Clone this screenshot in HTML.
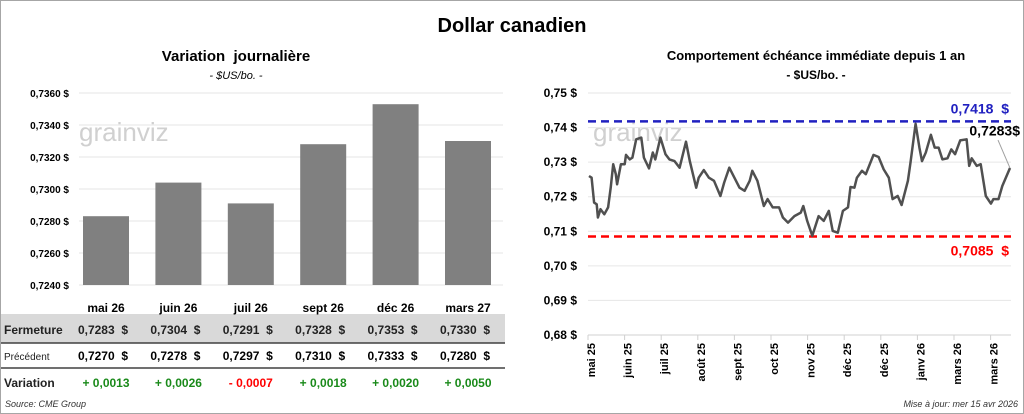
<!DOCTYPE html>
<html><head><meta charset="utf-8"><style>
body{margin:0;background:#fff;}
#root{position:relative;width:1022px;height:412px;border:1px solid #a6a6a6;font-family:"Liberation Sans",sans-serif;overflow:hidden;}
svg text{font-family:"Liberation Sans",sans-serif;white-space:pre;}
</style></head><body>
<div id="root">
<svg id="svg" width="1022" height="412">
<text x="511" y="31" text-anchor="middle" font-size="20" font-weight="bold">Dollar canadien</text>
<text x="235" y="60" text-anchor="middle" font-size="15" font-weight="bold">Variation  journalière</text>
<text x="235" y="78" text-anchor="middle" font-size="11" font-style="italic">- $US/bo. -</text>
<text x="815" y="59" text-anchor="middle" font-size="13" font-weight="bold">Comportement échéance immédiate depuis 1 an</text>
<text x="815" y="78" text-anchor="middle" font-size="12" font-weight="bold">- $US/bo. -</text>
<text x="78" y="140" font-size="26" fill="#d0d0d0">grainviz</text>
<text x="592" y="140" font-size="26" fill="#d0d0d0">grainviz</text>
<g id="left"></g><g id="right"></g><g id="table"></g>
<text x="4" y="406" font-size="9" font-style="italic" fill="#333">Source: CME Group</text>
<text x="1017" y="406" text-anchor="end" font-size="9" font-style="italic" fill="#333">Mise à jour: mer 15 avr 2026</text>
</svg></div>
<script>
const categories=["mai 26","juin 26","juil 26","sept 26","déc 26","mars 27"];
const closes=[0.7283,0.7304,0.7291,0.7328,0.7353,0.7330];
const previous=[0.7270,0.7278,0.7297,0.7310,0.7333,0.7280];
const variations=[0.0013,0.0026,-0.0007,0.0018,0.0020,0.0050];
const leftTicks=[0.7240,0.7260,0.7280,0.7300,0.7320,0.7340,0.7360];
const days=[0,2,4,6,7,9,12,15,17,19,21,22,25,28,29,32,34,37,41,43,47,50,52,56,60,63,67,71,76,79,84,86,90,94,98,103,106,110,114,118,122,126,128,132,137,140,144,149,152,156,161,166,168,171,175,180,184,188,191,195,199,203,205,208,210,214,217,223,227,231,235,238,242,245,250,252,256,259,261,264,268,271,274,277,281,284,287,291,296,298,300,304,307,311,315,317,321,324,330];
const prices=[0.7260,0.7255,0.7183,0.7178,0.7140,0.7164,0.7149,0.7169,0.7226,0.7294,0.7265,0.7236,0.7294,0.7294,0.7321,0.7308,0.7313,0.7366,0.7371,0.7313,0.7282,0.7328,0.7308,0.7371,0.7323,0.7308,0.7303,0.7284,0.7359,0.7303,0.7226,0.7255,0.7277,0.7255,0.7246,0.7202,0.7241,0.7284,0.7255,0.7226,0.7217,0.7246,0.7275,0.7246,0.7173,0.7193,0.7169,0.7169,0.7140,0.7125,0.7144,0.7154,0.7173,0.7130,0.7087,0.7144,0.7130,0.7159,0.7101,0.7096,0.7159,0.7169,0.7228,0.7226,0.7255,0.7275,0.7265,0.7321,0.7315,0.7279,0.7255,0.7193,0.7202,0.7176,0.7246,0.7299,0.7411,0.7342,0.7303,0.7328,0.7379,0.7342,0.7342,0.7308,0.7311,0.7337,0.7323,0.7363,0.7366,0.7289,0.7311,0.7289,0.7294,0.7202,0.7180,0.7193,0.7193,0.7231,0.7283];
const rightTicks=[0.68,0.69,0.70,0.71,0.72,0.73,0.74,0.75];
const monthLabels=["mai 25","juin 25","juil 25","août 25","sept 25","oct 25","nov 25","déc 25","déc 25","janv 26","mars 26","mars 26"];
const highVal=0.7418, lowVal=0.7085, lastVal=0.7283;
const NS="http://www.w3.org/2000/svg";
function mk(tag,attrs,parent,txt){const e=document.createElementNS(NS,tag);for(const k in attrs)e.setAttribute(k,attrs[k]);if(txt!==undefined)e.textContent=txt;parent.appendChild(e);return e;}
const fmt=(v,d)=>v.toFixed(d).replace('.',',');
const L=document.getElementById('left');
const ly=v=>284-(v-0.7240)/0.0120*192;
const lx=i=>105+i*72.4;
leftTicks.forEach(t=>{
 const g=mk('line',{x1:78,x2:502,y1:ly(t),y2:ly(t),stroke:'#e6e6e6'},L);
 
 
 const tx=mk('text',{x:68,y:ly(t)+4,'text-anchor':'end','font-size':10,'font-weight':'bold'},L,fmt(t,4)+' $');
 
 
});
closes.forEach((v,i)=>{
 const r=mk('rect',{x:lx(i)-23,y:ly(v),width:46,height:284-ly(v),fill:'#808080'},L);
 
 
});
const T=document.getElementById('table');
const bg=mk('rect',{x:0,y:313,width:504,height:29,fill:'#d9d9d9'},T);


[342,367].forEach(y=>{const l=mk('line',{x1:0,x2:504,y1:y,y2:y,stroke:'#404040','stroke-width':1.5},T);
 
 });
const r1=mk('text',{x:3,y:333,'font-size':12,'font-weight':'bold',fill:'#222'},T,'Fermeture');


const r2=mk('text',{x:3,y:359,'font-size':10,fill:'#222'},T,'Précédent');


const r3=mk('text',{x:3,y:386,'font-size':12,'font-weight':'bold',fill:'#222'},T,'Variation');


categories.forEach((c,i)=>{
 const h=mk('text',{x:lx(i),y:311,'text-anchor':'middle','font-size':12,'font-weight':'bold'},T,c);
 
 
 const a=mk('text',{x:lx(i)+22,y:333,'text-anchor':'end','font-size':12,'font-weight':'bold',fill:'#222'},T,fmt(closes[i],4)+'  $');
 
 
 const b=mk('text',{x:lx(i)+22,y:359,'text-anchor':'end','font-size':12,'font-weight':'bold'},T,fmt(previous[i],4)+'  $');
 
 
 const d=variations[i];
 const v=mk('text',{x:lx(i),y:386,'text-anchor':'middle','font-size':12,'font-weight':'bold',fill:d>=0?'#1a8a1a':'#ff0000'},T,(d>=0?'+ ':'- ')+fmt(Math.abs(d),4));
 
 
});
const R=document.getElementById('right');
const ry=v=>334-(v-0.68)/0.07*242;
const rx=d=>588+d/330*421;
rightTicks.forEach(t=>{
 const g=mk('line',{x1:587,x2:1010,y1:ry(t),y2:ry(t),stroke:t===0.68?'#d0d0d0':'#e6e6e6'},R);
 
 
 const tx=mk('text',{x:576,y:ry(t)+4,'text-anchor':'end','font-size':12,'font-weight':'bold'},R,fmt(t,2)+' $');
 
 
});
monthLabels.forEach((m,i)=>{
 const x=587+i*36.6;
 const tk=mk('line',{x1:x,x2:x,y1:334,y2:339,stroke:'#d0d0d0'},R);
 
 
 const t=mk('text',{x:0,y:0,'text-anchor':'end','font-size':11,'font-weight':'bold',transform:`translate(${x+7},342) rotate(-90)`},R,m);
 
 
});
const hl=mk('line',{x1:587,x2:1010,y1:ry(highVal),y2:ry(highVal),stroke:'#2020c0','stroke-width':2.5,'stroke-dasharray':'8,5'},R);


const ll=mk('line',{x1:587,x2:1010,y1:ry(lowVal),y2:ry(lowVal),stroke:'#ff0000','stroke-width':2.5,'stroke-dasharray':'8,5'},R);


const ht=mk('text',{x:1008,y:ry(highVal)-8,'text-anchor':'end','font-size':14,'font-weight':'bold',fill:'#2020c0'},R,fmt(highVal,4)+'  $');


const lt=mk('text',{x:1008,y:ry(lowVal)+19,'text-anchor':'end','font-size':14,'font-weight':'bold',fill:'#ff0000'},R,fmt(lowVal,4)+'  $');


const pts=days.map((d,i)=>rx(d).toFixed(1)+','+ry(prices[i]).toFixed(1)).join(' ');
const pl=mk('polyline',{points:pts,fill:'none',stroke:'#505050','stroke-width':2.5,'stroke-linejoin':'round'},R);


const lx2=rx(days[days.length-1]),ly2=ry(prices[prices.length-1]);
const ld=mk('line',{x1:lx2,y1:ly2,x2:lx2-12,y2:ly2-28,stroke:'#a0a0a0'},R);


const lab=mk('text',{x:1019,y:ry(highVal)+14,'text-anchor':'end','font-size':14,'font-weight':'bold'},R,fmt(lastVal,4)+'$');


</script>
</body></html>
